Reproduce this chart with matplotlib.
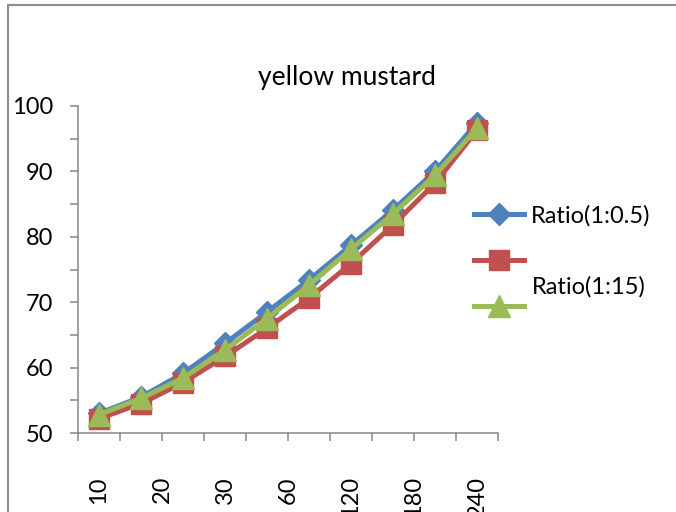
import numpy as np
import matplotlib
matplotlib.use('Agg')
import matplotlib.pyplot as plt
from matplotlib.patches import Rectangle

plt.rcParams['font.family'] = ['Lato', 'DejaVu Sans']

# sampling times (minutes) and the three ratio series
time_labels = ['10', '20', '30', '60', '120', '180', '240']
n_points = 10
ratio_05 = [53.0, 55.5, 59.1, 63.7, 68.5, 73.4, 78.7, 84.1, 90.0, 97.4]
ratio_mid = [52.2, 54.5, 57.7, 61.7, 66.0, 70.6, 75.9, 81.8, 88.2, 96.3]
ratio_15 = [52.8, 55.3, 58.4, 62.7, 67.5, 72.6, 78.1, 83.5, 89.4, 96.6]

blue = '#4F81BD'
red = '#C0504D'
green = '#9BBB59'
axis_grey = '#868686'

fig = plt.figure(figsize=(6.76, 5.12), dpi=100)
ax = fig.add_axes([78 / 676, 1 - 433 / 512, 420 / 676, 327 / 512])

x = np.arange(n_points)
l1, = ax.plot(x, ratio_05, color=blue, lw=3.6, marker='D', ms=11, zorder=3)
l2, = ax.plot(x, ratio_mid, color=red, lw=3.6, marker='s', ms=14, zorder=4)
l3, = ax.plot(x, ratio_15, color=green, lw=3.6, marker='^', ms=16, zorder=5)

ax.set_xlim(-0.5, n_points - 0.5)
ax.set_ylim(50, 100)

# category boundaries get tick marks, labels spread evenly below
ax.xaxis.remove_overlapping_locs = False
ax.set_xticks(np.arange(-0.5, n_points), labels=[])
ax.set_xticks(np.linspace(0, n_points - 1, len(time_labels)), labels=time_labels, minor=True)
ax.tick_params(axis='x', which='major', length=6, width=1.1, color=axis_grey, direction='out')
ax.tick_params(axis='x', which='minor', length=0, pad=31, labelsize=17, labelrotation=90)

ax.set_yticks(np.arange(50, 101, 10))
ax.set_yticks(np.arange(55, 100, 10), minor=True)
ax.tick_params(axis='y', which='both', length=6, width=1.1, color=axis_grey, direction='out', pad=12, labelsize=17)

for side in ['top', 'right']:
    ax.spines[side].set_visible(False)
for side in ['left', 'bottom']:
    ax.spines[side].set_color(axis_grey)
    ax.spines[side].set_linewidth(1.1)

fig.text(347 / 676, 1 - 77 / 512, 'yellow mustard', ha='center', va='center', fontsize=19)

leg = ax.legend([l1, l2, l3], ['Ratio(1:0.5)', '', ''], loc='upper left',
                bbox_to_anchor=(474 / 676, 1 - 205 / 512), bbox_transform=fig.transFigure,
                frameon=False, fontsize=17, handlelength=2.1, handletextpad=0.3,
                labelspacing=1.05, borderpad=0, borderaxespad=0)
fig.text(532 / 676, 1 - 287 / 512, 'Ratio(1:15)', ha='left', va='center', fontsize=17)

# outer chart frame
fig.patches.append(Rectangle((8 / 676, -0.1), 1.2, 1.1 - 5 / 512, transform=fig.transFigure,
                             fill=False, edgecolor='#8c8c8c', lw=1.5))

fig.savefig('out.png', dpi=100)
